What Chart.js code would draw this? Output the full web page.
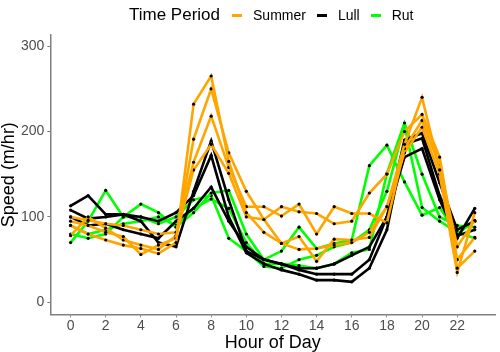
<!DOCTYPE html>
<html>
<head>
<meta charset="utf-8">
<script src="https://cdn.jsdelivr.net/npm/chart.js@4/dist/chart.umd.min.js"></script>
<style>
  body { margin: 0; background: #fff; font-family: "Liberation Sans", Arial, sans-serif; }
  #wrap { position: relative; width: 500px; height: 352px; }
  #legend { position: absolute; top: 5px; left: 129px; display: flex; align-items: center; white-space: nowrap; }
  #legend .title { font-size: 17px; color: #000; margin-right: 12px; }
  #legend .key { display: inline-block; width: 10px; height: 3px; margin-right: 11px; }
  #legend .lab { font-size: 14px; color: #000; margin-right: 11px; }
</style>
</head>
<body>
<div id="wrap">
  <canvas id="speedChart" width="500" height="352"></canvas>
  <div id="legend"></div>
</div>
<script>
// heures
const hours = [0,1,2,3,4,5,6,7,8,9,10,11,12,13,14,15,16,17,18,19,20,21,22,23];
const xTicks = [0,2,4,6,8,10,12,14,16,18,20,22];
const yTicks = [0,100,200,300];

// vitesses par groupe (m/hr)
const summer1 = [90, 80, 73, 67, 63, 57, 70, 232, 265, 165, 105, 82, 69, 62, 63, 67, 70, 82, 112, 185, 240, 155, 40, 60];
const summer2 = [95, 90, 82, 77, 56, 67, 75, 191, 250, 175, 130, 97, 112, 106, 104, 92, 95, 128, 150, 200, 220, 170, 50, 76];
const summer3 = [100, 96, 92, 90, 85, 80, 82, 164, 218, 158, 112, 112, 101, 115, 80, 112, 104, 104, 93, 180, 213, 160, 65, 96];
const summer4 = [78, 100, 87, 73, 67, 62, 78, 155, 185, 151, 100, 97, 69, 77, 48, 74, 73, 76, 112, 175, 205, 150, 35, 105];

const lull1 = [113, 125, 103, 103, 95, 70, 65, 130, 189, 120, 60, 50, 45, 38, 33, 33, 33, 50, 100, 190, 198, 140, 85, 95];
const lull2 = [108, 98, 100, 103, 100, 95, 105, 125, 172, 100, 58, 45, 38, 33, 26, 26, 24, 40, 85, 185, 192, 125, 78, 85];
const lull3 = [100, 90, 92, 85, 80, 75, 95, 110, 135, 95, 65, 50, 45, 40, 40, 45, 55, 65, 100, 170, 180, 120, 75, 110];

const rut1 = [70, 95, 131, 100, 115, 105, 88, 105, 128, 131, 80, 50, 60, 88, 63, 69, 73, 160, 184, 141, 102, 111, 80, 95];
const rut2 = [90, 80, 85, 92, 95, 100, 90, 110, 121, 110, 70, 45, 45, 43, 40, 45, 58, 62, 151, 210, 150, 100, 90, 88];
const rut3 = [80, 75, 80, 100, 100, 92, 100, 120, 125, 75, 60, 42, 40, 50, 55, 65, 70, 85, 130, 207, 111, 95, 82, 75];

const groups = [
  { name: 'Summer', color: '#FFA500', series: [summer1, summer2, summer3, summer4] },
  { name: 'Lull', color: '#000000', series: [lull1, lull2, lull3] },
  { name: 'Rut', color: '#00FF00', series: [rut1, rut2, rut3] }
];

let datasets = [];
groups.forEach(g => {
  g.series.forEach(s => {
    datasets.push({
      label: g.name,
      data: hours.map((h, i) => ({ x: h, y: s[i] })),
      borderColor: g.color,
      borderWidth: 2.6,
      pointRadius: 1.6,
      pointBackgroundColor: '#000',
      pointBorderWidth: 0,
      tension: 0
    });
  });
});

// legende en html
const legend = document.getElementById('legend');
let html = '<span class="title">Time Period</span>';
groups.forEach(g => {
  html += '<span class="key" style="background:' + g.color + '"></span><span class="lab">' + g.name + '</span>';
});
legend.innerHTML = html;

const axisColor = '#808080';
const tickFont = { family: 'Liberation Sans', size: 14, lineHeight: 1.05 };
const titleFont = { family: 'Liberation Sans', size: 18, lineHeight: 1 };

const ctx = document.getElementById('speedChart').getContext('2d');
new Chart(ctx, {
  type: 'line',
  data: { datasets: datasets },
  options: {
    responsive: false,
    animation: false,
    layout: { padding: { top: 35, right: 5, left: 0, bottom: 0 } },
    plugins: { legend: { display: false }, tooltip: { enabled: false } },
    scales: {
      x: {
        type: 'linear',
        min: -1.15,
        max: 24.15,
        afterBuildTicks: axis => { axis.ticks = xTicks.map(v => ({ value: v })); },
        ticks: { color: '#4d4d4d', font: tickFont, padding: 1, maxRotation: 0 },
        grid: { drawOnChartArea: false, tickLength: 3, color: axisColor },
        border: { color: axisColor, width: 1.5 },
        title: { display: true, text: 'Hour of Day', color: '#000', font: titleFont, padding: { top: 0, bottom: 0 } }
      },
      y: {
        type: 'linear',
        min: -14,
        max: 313,
        afterBuildTicks: axis => { axis.ticks = yTicks.map(v => ({ value: v })); },
        ticks: { color: '#4d4d4d', font: tickFont, padding: 3 },
        grid: { drawOnChartArea: false, tickLength: 3, color: axisColor },
        border: { color: axisColor, width: 1.5 },
        title: { display: true, text: 'Speed (m/hr)', color: '#000', font: titleFont, padding: { top: 0, bottom: 0 } }
      }
    }
  }
});
</script>
</body>
</html>
